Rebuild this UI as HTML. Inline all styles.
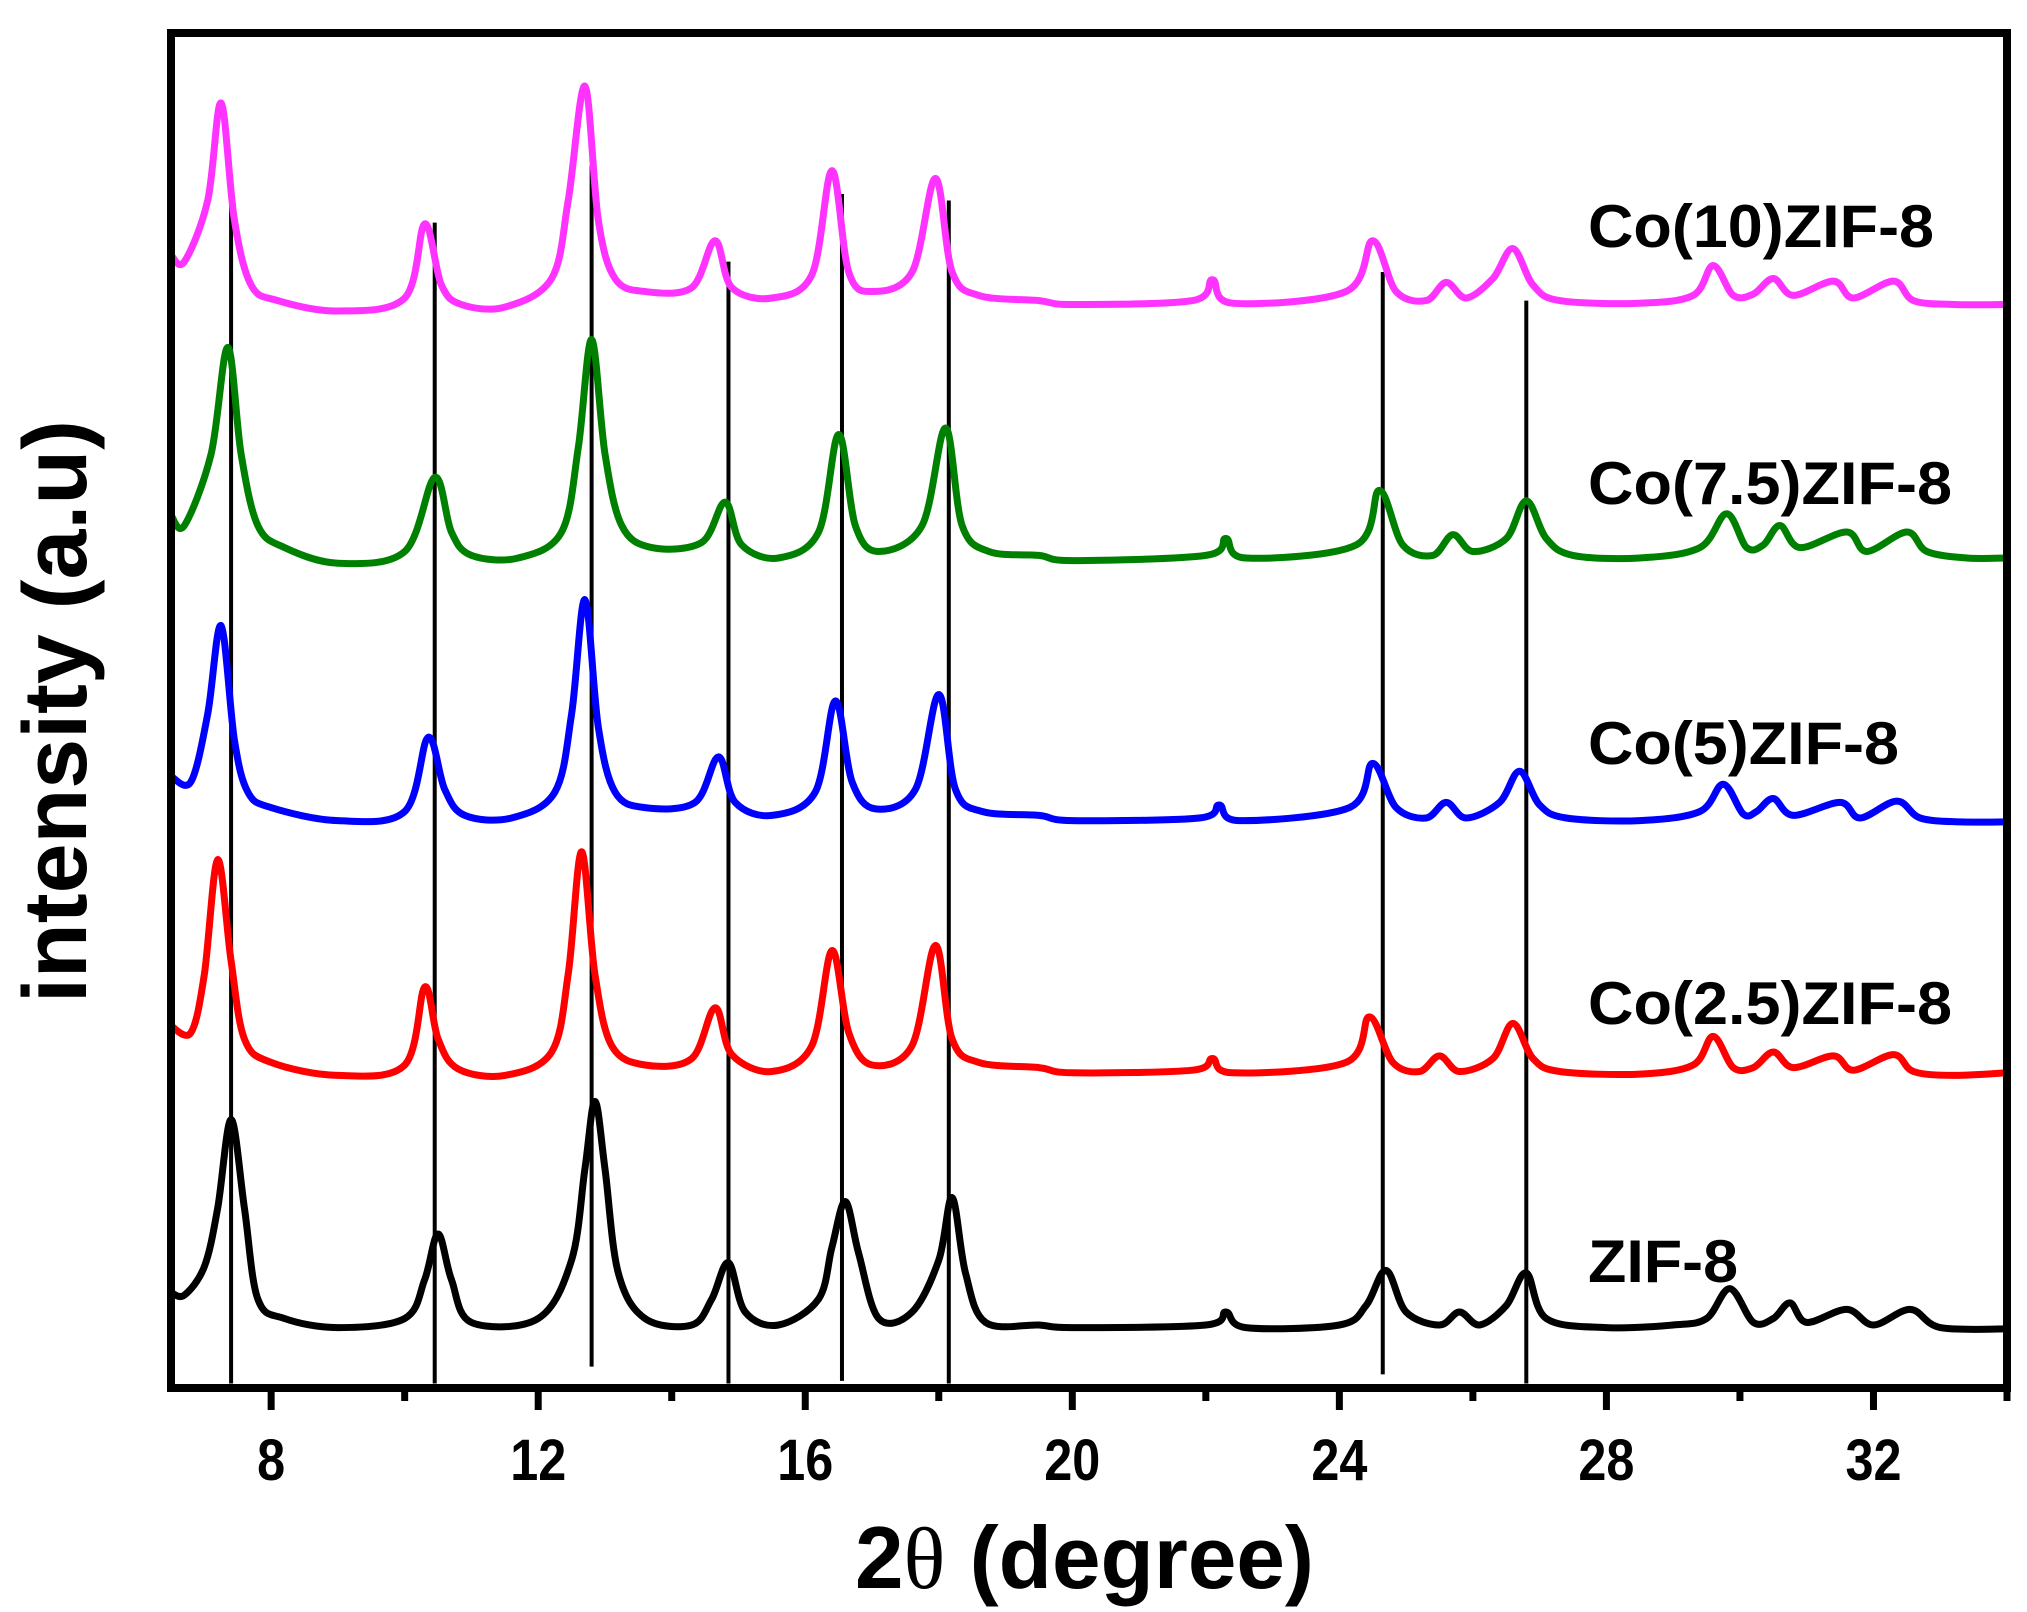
<!DOCTYPE html>
<html><head><meta charset="utf-8"><style>
html,body{margin:0;padding:0;background:#fff;}
svg{display:block;}
</style></head><body>
<svg id="chart" width="2027" height="1612" viewBox="0 0 2027 1612" xmlns="http://www.w3.org/2000/svg">
<rect x="0" y="0" width="2027" height="1612" fill="#fff"/>
<g id="reflines"></g>
<g id="series"></g>
<g id="axes"></g>
<rect x="171" y="33" width="1836" height="1355" fill="none" stroke="#000" stroke-width="8"/>
<g font-family="'Liberation Sans', sans-serif" font-weight="bold" fill="#000" font-size="60">
<text x="1588" y="247" textLength="346" lengthAdjust="spacingAndGlyphs">Co(10)ZIF-8</text>
<text x="1588" y="504" textLength="364" lengthAdjust="spacingAndGlyphs">Co(7.5)ZIF-8</text>
<text x="1588" y="764" textLength="311" lengthAdjust="spacingAndGlyphs">Co(5)ZIF-8</text>
<text x="1588" y="1024" textLength="364" lengthAdjust="spacingAndGlyphs">Co(2.5)ZIF-8</text>
<text x="1588" y="1282" textLength="150" lengthAdjust="spacingAndGlyphs">ZIF-8</text>
</g>
<text x="855" y="1588" font-family="'Liberation Sans', sans-serif" font-weight="bold" font-size="88" textLength="459" lengthAdjust="spacingAndGlyphs">2<tspan font-family="'Liberation Serif', serif" font-weight="normal">θ</tspan> (degree)</text>
<text transform="translate(86,1003) rotate(-90)" x="0" y="0" font-family="'Liberation Sans', sans-serif" font-weight="bold" font-size="90" textLength="583" lengthAdjust="spacingAndGlyphs">intensity (a.u)</text>
</svg>
<script>
const xTicks = [8, 12, 16, 20, 24, 28, 32];
const xMinorTicks = [10, 14, 18, 22, 26, 30, 34];
const xTickLabels = ["8", "12", "16", "20", "24", "28", "32"];
const refX = [7.4, 10.45, 12.8, 14.85, 16.55, 18.15, 24.65, 26.8];
const refTop = [935, 898, 942, 868, 920, 915, 860, 838];
const refBottom = [5, 5, 18, 5, 7, 5, 12, 5];
const seriesNames = ["zif8", "co2-5", "co5", "co7-5", "co10"];
const seriesColors = ["#000000", "#ff0000", "#0000ff", "#008000", "#ff33ff"];
const zifX = [6.5,6.7,7.0,7.2,7.4,7.6,7.8,8.2,9,10,10.3,10.5,10.7,11,12,12.5,12.7,12.85,13.0,13.2,13.6,14.3,14.6,14.85,15.1,15.6,16.2,16.4,16.6,16.8,17.1,17.6,18.0,18.2,18.4,18.7,19.5,20,22,22.3,22.6,24,24.4,24.7,25.0,25.5,25.8,26.1,26.5,26.8,27.1,28,29,29.5,29.85,30.2,30.5,30.75,31,31.6,32,32.55,33,34];
const zifY = [75,73,95,140,208,140,70,55,48,55,85,120,85,52,55,100,170,222,170,90,55,50,70,98,60,50,70,110,145,105,55,60,100,148,90,52,50,48,50,60,48,50,65,92,60,50,60,50,65,90,55,48,50,55,78,52,55,67,52,62,50,62,48,47];
const co25X = [6.5,6.8,7.0,7.2,7.4,7.6,8.0,9,10,10.3,10.5,10.8,11.5,12.2,12.45,12.65,12.85,13.1,13.6,14.3,14.65,14.9,15.5,16.1,16.4,16.65,17.0,17.6,17.95,18.2,18.6,19.5,20,21.8,22.1,22.4,24.1,24.45,24.8,25.2,25.5,25.8,26.3,26.6,26.9,27.3,28.5,29.3,29.6,29.9,30.2,30.5,30.8,31.4,31.7,32.3,32.6,33.2,34];
const co25Y = [280,275,320,408,330,270,252,242,250,310,270,247,242,260,320,414,320,265,250,255,294,258,245,265,338,275,250,265,342,270,252,248,244,246,255,244,252,287,252,245,257,245,255,282,255,245,243,250,272,248,248,260,248,257,246,258,245,242,244];
const co5X = [6.5,6.8,7.05,7.25,7.45,7.65,8.0,9,10,10.35,10.6,10.9,11.6,12.25,12.5,12.7,12.9,13.15,13.6,14.35,14.7,14.95,15.5,16.15,16.45,16.7,17.05,17.65,18.0,18.25,18.65,19.5,20,21.9,22.2,22.5,24.15,24.5,24.85,25.3,25.6,25.9,26.4,26.7,27.0,27.4,28.5,29.4,29.75,30.05,30.25,30.5,30.8,31.5,31.8,32.35,32.7,33.3,34];
const co5Y = [472,468,520,588,500,460,448,438,445,502,462,442,440,460,520,608,510,460,448,452,487,452,442,460,530,468,447,462,535,462,445,442,438,440,450,438,448,482,448,440,452,440,452,476,450,440,438,445,466,443,445,455,442,452,440,453,440,437,437];
const co75X = [6.5,6.7,7.1,7.35,7.55,7.8,8.2,9,10,10.45,10.7,11,11.7,12.35,12.6,12.8,13.0,13.25,13.7,14.45,14.8,15.05,15.6,16.2,16.5,16.75,17.1,17.75,18.1,18.35,18.75,19.5,20,22.0,22.3,22.6,24.25,24.6,24.95,25.4,25.7,26.0,26.5,26.8,27.1,27.5,28.5,29.4,29.8,30.1,30.35,30.6,30.9,31.6,31.9,32.5,32.8,33.4,34];
const co75Y = [673,665,720,802,720,665,648,636,645,702,660,642,640,660,725,808,720,665,648,652,683,650,640,660,735,665,645,665,740,665,645,642,638,642,655,640,650,692,650,642,658,645,655,684,655,642,640,648,674,648,650,665,648,660,645,660,645,640,640];
const co10X = [6.5,6.7,7.05,7.25,7.45,7.7,8.1,9,10,10.3,10.55,10.85,11.5,12.2,12.45,12.7,12.9,13.15,13.6,14.3,14.65,14.9,15.5,16.1,16.4,16.65,17.0,17.6,17.95,18.2,18.6,19.5,20,21.8,22.1,22.4,24.1,24.5,24.85,25.3,25.6,25.9,26.3,26.6,26.9,27.3,28.5,29.3,29.6,29.9,30.2,30.5,30.8,31.4,31.7,32.3,32.6,33.2,34];
const co10Y = [873,868,915,990,900,850,838,830,840,897,850,835,833,855,915,1003,900,855,845,848,884,848,840,858,938,860,845,860,932,860,842,838,835,838,854,836,845,884,845,838,852,840,855,878,850,838,836,842,865,842,843,855,842,853,840,853,838,835,835];

const NS = "http://www.w3.org/2000/svg";
const X0 = 6.5, X1 = 34.0, PX0 = 171, PX1 = 2007;
const PY0 = 1390, YSCALE = 1.3;
function xs(v){ return PX0 + (v - X0) / (X1 - X0) * (PX1 - PX0); }
function ys(v){ return PY0 - v * YSCALE; }

const axes = document.getElementById('axes');
xTicks.forEach((t, i) => {
  const l = document.createElementNS(NS, 'line');
  l.setAttribute('x1', xs(t)); l.setAttribute('x2', xs(t));
  l.setAttribute('y1', 1388); l.setAttribute('y2', 1410);
  l.setAttribute('stroke', '#000'); l.setAttribute('stroke-width', 7);
  
  
  axes.appendChild(l);
  const tx = document.createElementNS(NS, 'text');
  tx.setAttribute('x', xs(t)); tx.setAttribute('y', 1480);
  tx.setAttribute('text-anchor', 'middle');
  tx.setAttribute('font-family', "'Liberation Sans', sans-serif");
  tx.setAttribute('font-weight', 'bold');
  tx.setAttribute('font-size', '58');
  tx.setAttribute('textLength', xTickLabels[i].length * 28);
  tx.setAttribute('lengthAdjust', 'spacingAndGlyphs');
  tx.textContent = xTickLabels[i];
  
  
  axes.appendChild(tx);
});
xMinorTicks.forEach(t => {
  const l = document.createElementNS(NS, 'line');
  l.setAttribute('x1', xs(t)); l.setAttribute('x2', xs(t));
  l.setAttribute('y1', 1388); l.setAttribute('y2', 1401);
  l.setAttribute('stroke', '#000'); l.setAttribute('stroke-width', 7);
  
  
  axes.appendChild(l);
});

const rg = document.getElementById('reflines');
refX.forEach((x, i) => {
  const l = document.createElementNS(NS, 'line');
  l.setAttribute('x1', xs(x)); l.setAttribute('x2', xs(x));
  l.setAttribute('y1', ys(refTop[i])); l.setAttribute('y2', ys(refBottom[i]));
  l.setAttribute('stroke', '#000'); l.setAttribute('stroke-width', 4);
  
  
  rg.appendChild(l);
});

function smoothPath(P){
  let d = 'M' + P[0][0].toFixed(1) + ',' + P[0][1].toFixed(1);
  for (let i = 0; i < P.length - 1; i++) {
    const p0 = P[Math.max(0, i - 1)], p1 = P[i], p2 = P[i + 1], p3 = P[Math.min(P.length - 1, i + 2)];
    const k = 1 / 6;
    const c1x = p1[0] + (p2[0] - p0[0]) * k, c1y = p1[1] + (p2[1] - p0[1]) * k;
    const c2x = p2[0] - (p3[0] - p1[0]) * k, c2y = p2[1] - (p3[1] - p1[1]) * k;
    d += ' C' + c1x.toFixed(1) + ',' + c1y.toFixed(1) + ' ' + c2x.toFixed(1) + ',' + c2y.toFixed(1) + ' ' + p2[0].toFixed(1) + ',' + p2[1].toFixed(1);
  }
  return d;
}

const seriesX = [zifX, co25X, co5X, co75X, co10X];
const seriesY = [zifY, co25Y, co5Y, co75Y, co10Y];
const sg = document.getElementById('series');
seriesX.forEach((xa, s) => {
  const ya = seriesY[s];
  const P = xa.map((x, i) => [xs(x), ys(ya[i])]);
  const p = document.createElementNS(NS, 'path');
  p.setAttribute('d', smoothPath(P));
  p.setAttribute('fill', 'none');
  p.setAttribute('stroke', seriesColors[s]);
  p.setAttribute('stroke-width', 7);
  p.setAttribute('stroke-linejoin', 'round');
  p.setAttribute('stroke-linecap', 'round');
  
  
  sg.appendChild(p);
});
</script>
</body></html>
